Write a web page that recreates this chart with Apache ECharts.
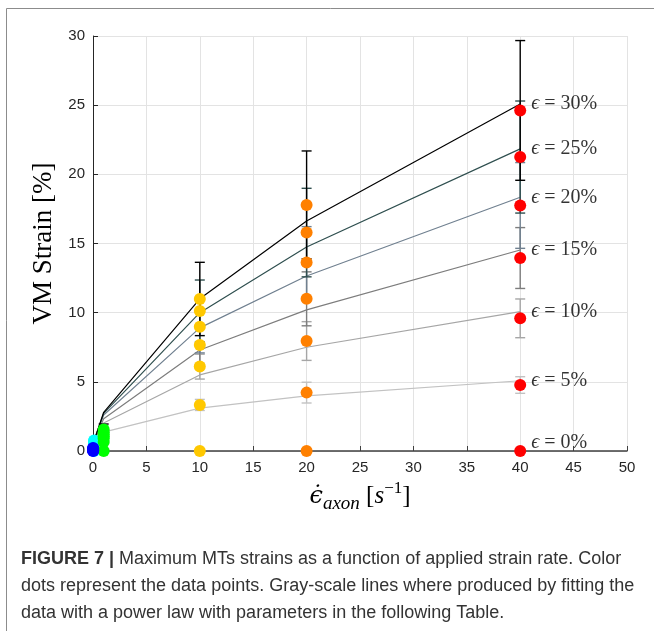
<!DOCTYPE html>
<html><head><meta charset="utf-8">
<script src="https://cdn.jsdelivr.net/npm/echarts@6/dist/echarts.min.js"></script>
<style>html,body{margin:0;padding:0;background:#fff}#c{width:654px;height:631px}</style>
</head><body><div id="c"></div>
<script>
// strain levels (index 0..6)
const levels = ['0%', '5%', '10%', '15%', '20%', '25%', '30%'];
// applied strain rates and their dot colours
const rates = [0.01, 0.1, 1, 10, 20, 40];
const rateColors = ['#0000ff', '#00ffff', '#00ff00', '#ffc800', '#ff8000', '#ff0000'];
// data points: VM strain per level at each rate
const ptsRate001 = [0, 0.03, 0.06, 0.1, 0.14, 0.18, 0.22];
const ptsRate01  = [0, 0.45, 0.52, 0.58, 0.64, 0.7, 0.76];
const ptsRate1   = [0, 0.65, 0.9, 1.05, 1.2, 1.35, 1.55];
const ptsRate10  = [0, 3.33, 6.1, 7.66, 8.99, 10.12, 10.99];
const ptsRate20  = [0, 4.22, 7.95, 11.0, 13.62, 15.79, 17.79];
const ptsRate40  = [0, 4.77, 9.59, 13.95, 17.75, 21.25, 24.62];
const pointsByRate = [ptsRate001, ptsRate01, ptsRate1, ptsRate10, ptsRate20, ptsRate40];
// error bar half-widths at rates 1, 10, 20, 40
const errRates = [1, 10, 20, 40];
const err5  = [0.1, 0.4, 0.75, 0.6];
const err10 = [0.15, 0.9, 1.4, 1.4];
const err15 = [0.2, 1.4, 1.95, 2.2];
const err20 = [0.25, 1.9, 2.6, 3.1];
const err25 = [0.3, 2.24, 3.2, 4.05];
const err30 = [0.4, 2.65, 3.9, 5.05];
const errByLevel = [null, err5, err10, err15, err20, err25, err30];
// power-law fit lines, read at these rates
const fitX = [0.1, 1, 10, 20, 40];
const fit5  = [0.6, 1.37, 3.1, 3.98, 5.08];
const fit10 = [0.72, 2.03, 5.5, 7.5, 10.07];
const fit15 = [0.74, 2.33, 7.3, 10.2, 14.53];
const fit20 = [0.76, 2.6, 8.9, 12.65, 18.34];
const fit25 = [0.76, 2.72, 10.0, 14.75, 21.84];
const fit30 = [0.72, 2.8, 11.0, 16.63, 25.09];
const fitByLevel = [null, fit5, fit10, fit15, fit20, fit25, fit30];
const lineColors = [null, '#c2c2c2', '#a6a6a6', '#7d7d7d', '#708090', '#2f4f4f', '#000000'];
// level labels at the right end
const labelY = [0.58, 5.08, 10.07, 14.53, 18.34, 21.84, 25.09];

const series = [];
for (let l = 1; l < levels.length; l++) {
  series.push({
    type: 'line', data: fitX.map((x, i) => [x, fitByLevel[l][i]]),
    symbol: 'none', lineStyle: { color: lineColors[l], width: 1.2 }, z: 2, silent: true
  });
}
for (let l = 1; l < levels.length; l++) {
  const col = lineColors[l];
  series.push({
    type: 'custom', z: 3, silent: true,
    data: errRates.map((x, i) => {
      const c = pointsByRate[rates.indexOf(x)][l];
      return [x, c - errByLevel[l][i], c + errByLevel[l][i]];
    }),
    encode: { x: 0, y: [1, 2] },
    renderItem: (params, api) => {
      const x = api.value(0), lo = api.value(1), hi = api.value(2);
      const p1 = api.coord([x, hi]), p2 = api.coord([x, lo]);
      const w = 5;
      const style = { stroke: col, lineWidth: 1.4 };
      return { type: 'group', children: [
        { type: 'line', shape: { x1: p1[0], y1: p1[1], x2: p2[0], y2: p2[1] }, style },
        { type: 'line', shape: { x1: p1[0] - w, y1: p1[1], x2: p1[0] + w, y2: p1[1] }, style },
        { type: 'line', shape: { x1: p2[0] - w, y1: p2[1], x2: p2[0] + w, y2: p2[1] }, style }
      ]};
    }
  });
}
rates.forEach((r, ri) => {
  series.push({
    type: 'scatter', z: ri === 0 ? 6 : 4, silent: true, symbolSize: 12, clip: false,
    itemStyle: { color: rateColors[ri], opacity: 1 },
    data: pointsByRate[ri].map(v => [r, v])
  });
});
const serif = 'Liberation Serif, DejaVu Serif, serif';
series.push({
  type: 'scatter', z: 5, silent: true, symbolSize: 0, clip: false,
  data: levels.map((lv, i) => ({ value: [40, labelY[i]], name: lv })),
  label: {
    show: true, position: 'right', distance: 11,
    formatter: p => '{e|ϵ} = ' + p.name,
    fontFamily: serif, fontSize: 20, color: '#000',
    rich: { e: { fontFamily: serif, fontSize: 20, fontStyle: 'italic', color: '#000' } }
  }
});

const chart = echarts.init(document.getElementById('c'), null, { renderer: 'canvas' });
const axisLabelStyle = { color: '#262626', fontSize: 15, fontFamily: 'Liberation Sans, Arial, sans-serif' };
chart.setOption({
  animation: false,
  backgroundColor: '#fff',
  grid: { left: 93, right: 27, top: 36, bottom: 180, containLabel: false },
  xAxis: {
    type: 'value', min: 0, max: 50, interval: 5,
    axisLine: { show: true, onZero: false, lineStyle: { color: '#404040', width: 1.5 } },
    axisTick: { show: true, inside: true, length: 5, lineStyle: { color: '#404040' } },
    axisLabel: Object.assign({ margin: 9 }, axisLabelStyle),
    splitLine: { show: true, lineStyle: { color: '#e3e3e3', width: 1 } },
    name: '{e|ϵ̇}{s|axon} {n|[}{i|s}{p|−1}{n|]}',
    nameLocation: 'middle', nameGap: 24,
    nameTextStyle: {
      fontFamily: serif, fontSize: 25, color: '#000', lineHeight: 34,
      rich: {
        e: { fontFamily: 'DejaVu Serif, serif', fontSize: 24, fontStyle: 'italic', lineHeight: 34, color: '#000' },
        s: { fontFamily: serif, fontSize: 19, fontStyle: 'italic', lineHeight: 34, verticalAlign: 'bottom', color: '#000' },
        n: { fontFamily: serif, fontSize: 25, lineHeight: 34, color: '#000' },
        i: { fontFamily: serif, fontSize: 25, fontStyle: 'italic', lineHeight: 34, color: '#000' },
        p: { fontFamily: serif, fontSize: 17, lineHeight: 34, verticalAlign: 'top', color: '#000' }
      }
    }
  },
  yAxis: {
    type: 'value', min: 0, max: 30, interval: 5,
    axisLine: { show: true, onZero: false, lineStyle: { color: '#262626', width: 1 } },
    axisTick: { show: true, inside: true, length: 5, lineStyle: { color: '#262626' } },
    axisLabel: Object.assign({ margin: 8 }, axisLabelStyle),
    splitLine: { show: true, lineStyle: { color: '#e3e3e3', width: 1 } },
    name: 'VM Strain [%]', nameLocation: 'middle', nameGap: 36, nameRotate: 90,
    nameTextStyle: { fontFamily: serif, fontSize: 27, color: '#000' }
  },
  graphic: [
    { type: 'rect', shape: { x: 6.5, y: 8.5, width: 800, height: 800 }, style: { fill: 'none', stroke: '#8c8c8c', lineWidth: 1 }, silent: true },
    { type: 'text', left: 21, top: 550, style: { text: '{b|FIGURE 7 |} Maximum MTs strains as a function of applied strain rate. Color', font: '18px Liberation Sans, Arial, sans-serif', fill: '#333', rich: { b: { fontWeight: 'bold', fontSize: 18, fontFamily: 'Liberation Sans, Arial, sans-serif', fill: '#333' } } } },
    { type: 'text', left: 21, top: 577, style: { text: 'dots represent the data points. Gray-scale lines where produced by fitting the', font: '18px Liberation Sans, Arial, sans-serif', fill: '#333' } },
    { type: 'text', left: 21, top: 604, style: { text: 'data with a power law with parameters in the following Table.', font: '18px Liberation Sans, Arial, sans-serif', fill: '#333' } }
  ],
  series
});
</script></body></html>
